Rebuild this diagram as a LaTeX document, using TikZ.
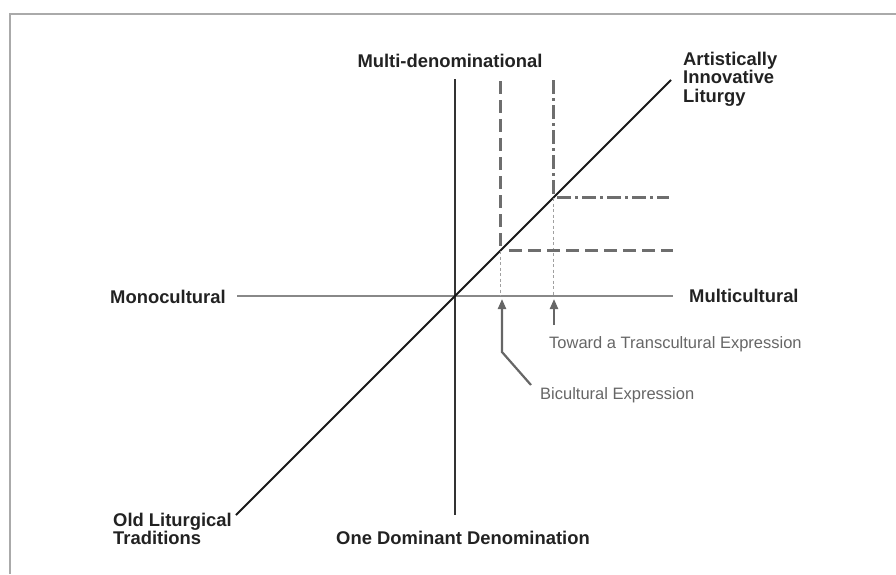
\documentclass[tikz,border=0pt]{standalone}
\usepackage{fontspec}
\setmainfont{Liberation Sans}
\usetikzlibrary{arrows.meta}
\definecolor{framegray}{HTML}{AAAAAA}
\definecolor{labeldark}{HTML}{222222}
\definecolor{notegray}{HTML}{666666}
\definecolor{axisdark}{HTML}{333333}
\definecolor{axislight}{HTML}{888888}
\definecolor{linegray}{HTML}{6E6E6E}
\definecolor{dotgray}{HTML}{A0A0A0}
\tikzset{
  biglabel/.style={inner sep=0pt, text=labeldark, font=\fontsize{18.4}{18.5}\selectfont\bfseries},
  notelabel/.style={inner sep=0pt, text=notegray, font=\fontsize{16.5}{18}\selectfont},
  vaxis/.style={draw=axisdark, line width=1.8pt},
  haxis/.style={draw=axislight, line width=1.3pt},
  diag/.style={draw=black!90, line width=1.8pt},
  dashline/.style={draw=linegray, line width=3pt, dash pattern=on 13pt off 6pt},
  dashdotline/.style={draw=linegray, line width=3pt, dash pattern=on 14pt off 4pt on 3pt off 4pt},
  thindot/.style={draw=dotgray, line width=1pt, dash pattern=on 3pt off 2.5pt},
  pointer/.style={draw=notegray, line width=2.2pt, -{Triangle[length=10pt,width=8pt]}},
}
\begin{document}
\begin{tikzpicture}[x=1pt,y=-1pt]
\useasboundingbox (0,0) rectangle (896,574);
% frame
\draw[framegray, line width=2pt] (9.5,574) -- (9.5,13.5) -- (896,13.5);

% axis end points
\coordinate (vtop) at (455,79);
\coordinate (vbot) at (455,515);
\coordinate (hleft) at (237,296);
\coordinate (hright) at (673,296);
\coordinate (dlow) at (236,515);
\coordinate (dhigh) at (671,80);
\coordinate (o) at (455,296);

% bicultural lines
\coordinate (bitop) at (500,81);
\coordinate (bicorner) at (500,251);
\coordinate (bistart) at (509,250);
\coordinate (biend) at (673,250);
\coordinate (biaxis) at (500,296);
% transcultural lines
\coordinate (trtop) at (553,80);
\coordinate (trcorner) at (553,198);
\coordinate (trstart) at (557,197);
\coordinate (trend) at (669,197);
\coordinate (traxis) at (553,296);

% axes
\draw[haxis] (hleft) -- (hright);
\draw[vaxis] (vtop) -- (vbot);
\draw[diag] (dlow) -- (dhigh);

% dashed guides
\draw[thindot] (bicorner) -- (biaxis);
\draw[thindot] (trcorner) -- (traxis);
\draw[dashline] (bitop) -- (bicorner);
\draw[dashline] (bistart) -- (biend);
\draw[dashdotline] (trtop) -- (trcorner);
\draw[dashdotline] (trstart) -- (trend);

% labels
\node[biglabel, anchor=base] (multiden) at (450,67) {Multi-denominational};
\node[biglabel, anchor=base] (onedom) at (463,544) {One Dominant Denomination};
\node[biglabel, anchor=base west] (mono) at (110,303) {Monocultural};
\node[biglabel, anchor=base west] (multi) at (689,302) {Multicultural};
\node[biglabel, anchor=north west, align=left] (artistic) at (683,51.7) {Artistically\\Innovative\\Liturgy};
\node[biglabel, anchor=north west, align=left] (old) at (113,512.7) {Old Liturgical\\Traditions};

\node[notelabel, anchor=base west] (toward) at (549,348) {Toward a Transcultural Expression};
\node[notelabel, anchor=base west] (bicult) at (540,399) {Bicultural Expression};

% pointers
\coordinate (bitail) at (531,385);
\coordinate (bibend) at (502,352);
\coordinate (bitip) at (502,299);
\coordinate (trtail) at (554,325);
\coordinate (trtip) at (554,299);
\draw[pointer] (bitail) -- (bibend) -- (bitip);
\draw[pointer] (trtail) -- (trtip);
\end{tikzpicture}
\end{document}
